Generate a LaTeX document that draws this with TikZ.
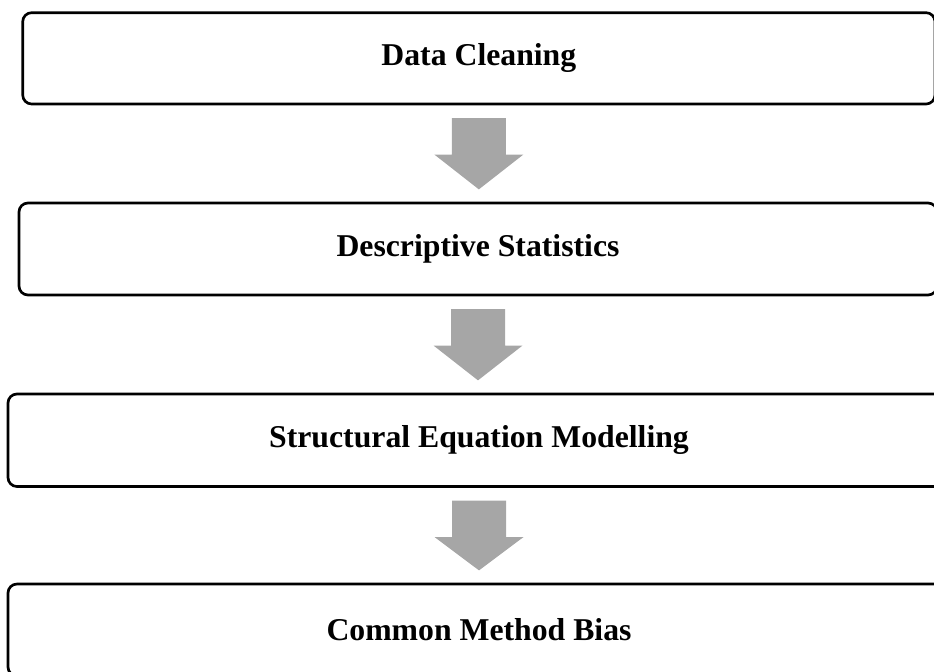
\documentclass[tikz,border=0pt]{standalone}
\usepackage{fontspec}
\setmainfont{Liberation Serif}
\usetikzlibrary{calc}
\definecolor{arrowgray}{HTML}{A6A6A6}
\newcommand\fatarrow[2]{%
  \fill[arrowgray]
    ($(#1.south)+(-27,12.7)$) -- ++(54,0) -- ++(0,36.5) -- ++(17.5,0)
    -- ($(#1.south |- #2.north)+(0,-12.3)$)
    -- ($(#1.south)+(-44.5,49.2)$) -- ++(17.5,0) -- cycle;}
\begin{document}
\begin{tikzpicture}[x=0.75pt,y=-0.75pt,
  box/.style={draw=black, line width=2pt, rounded corners=6.75pt,
    font=\fontsize{23.8}{28}\selectfont\bfseries, inner sep=0pt, align=center}]
\useasboundingbox (0,0) rectangle (934,671);
\clip (0,0) rectangle (934,671);
\node[box, minimum width=684.2pt, minimum height=68.5pt] (b1) at (478.85,58.35) {Data Cleaning};
\node[box, minimum width=688.5pt, minimum height=69pt] (b2) at (478,249) {Descriptive Statistics};
\node[box, minimum width=706.5pt, minimum height=69.4pt] (b3) at (479,440.25) {Structural Equation Modelling};
\node[box, minimum width=706.5pt, minimum height=69pt] (b4) at (479,630) {Common Method Bias};
\fatarrow{b1}{b2}
\fatarrow{b2}{b3}
\fatarrow{b3}{b4}
\end{tikzpicture}
\end{document}
